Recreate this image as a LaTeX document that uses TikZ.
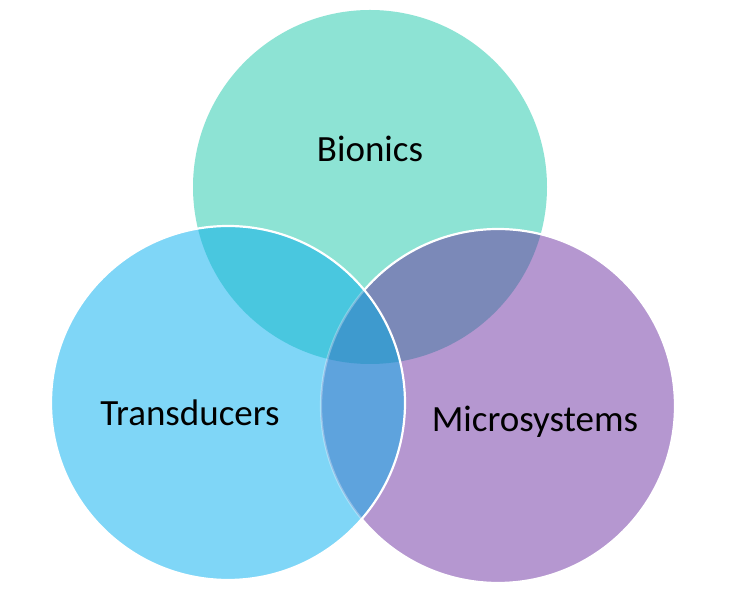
\documentclass[tikz,border=0pt]{standalone}
\usepackage{fontspec}
\setmainfont{Carlito}
\definecolor{cB}{HTML}{8DE3D4}
\definecolor{cT}{HTML}{7FD6F7}
\definecolor{cM}{HTML}{B597D0}
\definecolor{cBT}{HTML}{49C7DF}
\definecolor{cBM}{HTML}{7B89B8}
\definecolor{cTM}{HTML}{5EA3DD}
\definecolor{cAll}{HTML}{3E9ACE}
\begin{document}
\begin{tikzpicture}[x=1pt,y=1pt,
  lbl/.style={font=\fontsize{37}{40}\selectfont, text=black, inner sep=0pt, anchor=base},
  rim/.style={draw=white, line width=2.2pt}]
\useasboundingbox (0,0) rectangle (740,593);
\fill[white] (0,0) rectangle (740,593);
\coordinate (B) at (370,406);
\coordinate (T) at (228,190);
\coordinate (M) at (498,187);
\def\R{177pt}
% base circles
\fill[cB] (B) circle (\R);
\fill[cT] (T) circle (\R);
\fill[cM] (M) circle (\R);
% pair overlaps
\begin{scope}\clip (B) circle (\R); \fill[cBT] (T) circle (\R);\end{scope}
\begin{scope}\clip (B) circle (\R); \fill[cBM] (M) circle (\R);\end{scope}
\begin{scope}\clip (T) circle (\R); \fill[cTM] (M) circle (\R);\end{scope}
\begin{scope}\clip (B) circle (\R); \clip (T) circle (\R); \fill[cAll] (M) circle (\R);\end{scope}
% outlines
\begin{scope}[even odd rule]
  \clip (-10,-10) rectangle (750,603) (T) circle (\R);
  \draw[rim] (M) circle (\R);
\end{scope}
\begin{scope}
  \clip (T) circle (\R);
  \draw[rim, draw opacity=0.3] (M) circle (\R);
\end{scope}
\draw[rim] (T) circle (\R);
% labels
\node[lbl] (lB) at (370,431) {Bionics};
\node[lbl] (lT) at (190,167) {Transducers};
\node[lbl] (lM) at (535,161) {Microsystems};
\end{tikzpicture}
\end{document}
